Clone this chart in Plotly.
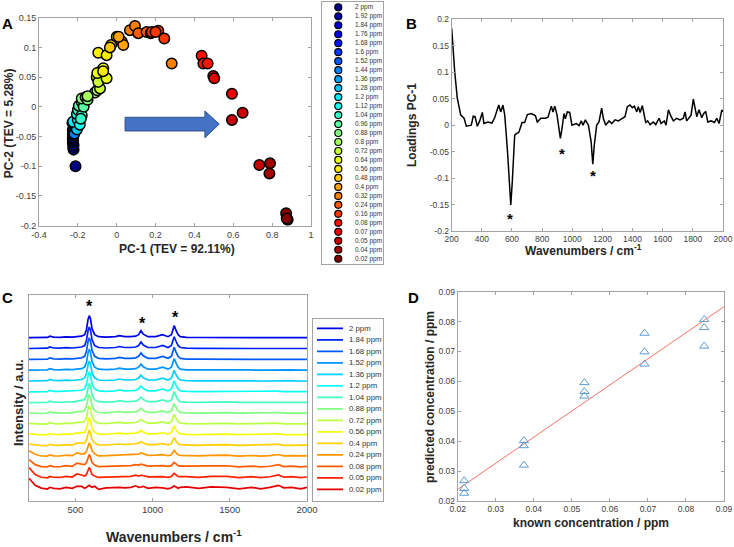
import plotly.graph_objects as go
from plotly.colors import sample_colorscale

W, H = 734, 547

# ---------------- DATA ----------------
# Panel A: PCA scores
conc_labels_A = ["2 ppm", "1.92 ppm", "1.84 ppm", "1.76 ppm", "1.68 ppm", "1.6 ppm", "1.52 ppm",
                 "1.44 ppm", "1.36 ppm", "1.28 ppm", "1.2 ppm", "1.12 ppm", "1.04 ppm", "0.96 ppm",
                 "0.88 ppm", "0.8 ppm", "0.72 ppm", "0.64 ppm", "0.56 ppm", "0.48 ppm", "0.4 ppm",
                 "0.32 ppm", "0.24 ppm", "0.16 ppm", "0.08 ppm", "0.07 ppm", "0.05 ppm", "0.04 ppm",
                 "0.02 ppm"]
pc_level = [0, 1, 1, 2, 2, 3, 3, 4, 4, 5, 5, 6, 6, 7, 7, 8, 8, 9, 9, 10, 10, 11, 11,
            12, 12, 12, 13, 13, 13, 14, 14, 14, 15, 15, 15, 16, 16, 16,
            17, 17, 17, 17,
            18, 18, 18, 19, 19, 19, 20, 20, 20, 21, 21, 21, 22, 22, 22,
            23, 23, 23, 23,
            24, 24, 24, 25, 25, 25, 26, 26, 26, 27, 27, 28, 28, 28]
pc1 = [-0.212,
       -0.222, -0.224, -0.222, -0.226, -0.224, -0.226, -0.226, -0.222, -0.226, -0.224,
       -0.222, -0.226, -0.222, -0.218, -0.212, -0.220, -0.228, -0.205, -0.225, -0.200,
       -0.205, -0.190,
       -0.200, -0.180, -0.185, -0.195, -0.180, -0.170, -0.180, -0.160, -0.150,
       -0.112, -0.100, -0.150, -0.086, -0.103, -0.095,
       -0.086, -0.069, -0.052, -0.100,
       -0.095, -0.052, -0.070, -0.029, -0.035, 0.000, 0.026, 0.034, 0.010,
       0.068, 0.094, 0.283, 0.111, 0.154, 0.175,
       0.180, 0.214, 0.245, 0.200,
       0.437, 0.446, 0.468, 0.497, 0.502, 0.593, 0.593, 0.648, 0.734,
       0.789, 0.786, 0.872, 0.880, 0.875]
pc2 = [-0.100,
       -0.072, -0.068, -0.064, -0.060, -0.057, -0.054, -0.051, -0.048, -0.046, -0.043,
       -0.041, -0.039, -0.037, -0.045, -0.034, -0.031, -0.027, -0.038, -0.025, -0.022,
       -0.012, -0.030,
       -0.005, -0.014, -0.020, 0.002, 0.008, 0.000, 0.014, 0.016, 0.012,
       0.024, 0.028, 0.018, 0.031, 0.050, 0.042,
       0.059, 0.065, 0.048, 0.057,
       0.091, 0.087, 0.060, 0.104, 0.100, 0.118, 0.110, 0.104, 0.118,
       0.129, 0.136, 0.073, 0.124, 0.126, 0.124,
       0.126, 0.128, 0.115, 0.126,
       0.086, 0.073, 0.073, 0.052, 0.048, 0.022, -0.022, -0.010, -0.098,
       -0.095, -0.112, -0.179, -0.190, -0.188]
A_xticks = [-0.4, -0.2, 0, 0.2, 0.4, 0.6, 0.8, 1]
A_xticktext = ["-0.4", "-0.2", "0", "0.2", "0.4", "0.6", "0.8", "1"]
A_yticks = [-0.2, -0.15, -0.1, -0.05, 0, 0.05, 0.1, 0.15]
A_yticktext = ["-0.2", "-0.15", "-0.1", "-0.05", "0", "0.05", "0.1", "0.15"]

# Panel B: loadings PC-1
load_wn = [200, 209, 220, 237, 260, 282, 297, 330, 343, 355, 370, 386, 403, 414, 441, 467, 485,
           512, 525, 540, 552, 569, 585, 592, 602, 618, 629, 645, 667, 684, 702, 728, 755, 768,
           791, 821, 839, 861, 872, 884, 899, 921, 932, 945, 954, 967, 983, 998, 1027, 1045,
           1060, 1071, 1087, 1107, 1125, 1136, 1146, 1162, 1177, 1195, 1206, 1222, 1244, 1262,
           1284, 1306, 1332, 1350, 1365, 1383, 1398, 1412, 1428, 1438, 1450, 1465, 1487, 1500,
           1516, 1538, 1554, 1576, 1589, 1611, 1622, 1638, 1656, 1671, 1693, 1715, 1737, 1748,
           1759, 1788, 1803, 1814, 1826, 1841, 1859, 1872, 1885, 1899, 1921, 1943, 1959, 1974,
           1992, 2000]
load_pc1 = [0.183, 0.145, 0.101, 0.051, 0.019, 0.013, -0.002, 0.000, 0.017, 0.016, -0.002, 0.008,
            0.024, 0.003, 0.006, 0.004, 0.014, 0.038, 0.025, 0.038, 0.019, -0.044, -0.126,
            -0.151, -0.107, -0.019, -0.016, -0.014, 0.005, 0.005, 0.020, 0.022, 0.018, 0.006,
            0.013, 0.013, 0.015, 0.036, 0.025, 0.036, 0.019, -0.025, -0.006, 0.022, 0.012,
            0.025, 0.024, 0.000, 0.003, -0.001, 0.008, 0.000, 0.010, 0.000, -0.031, -0.074,
            -0.038, 0.000, 0.006, 0.032, 0.013, 0.000, 0.008, 0.003, 0.010, 0.008, 0.013,
            0.016, 0.035, 0.038, 0.033, 0.036, 0.025, 0.035, 0.024, 0.037, 0.005, 0.008, 0.001,
            0.006, 0.001, 0.013, 0.003, 0.008, 0.000, 0.029, 0.016, 0.008, 0.013, 0.010, 0.013,
            0.025, 0.008, 0.019, 0.049, 0.032, 0.016, 0.029, 0.014, 0.022, 0.026, 0.006, 0.008,
            0.005, 0.013, 0.003, 0.029, 0.025]
B_xticks = [200, 400, 600, 800, 1000, 1200, 1400, 1600, 1800, 2000]
B_yticks = [-0.2, -0.15, -0.1, -0.05, 0, 0.05, 0.1, 0.15, 0.2]
B_yticktext = ["-0.2", "-0.15", "-0.1", "-0.05", "0", "0.05", "0.1", "0.15", "0.2"]
B_star_x = [587, 930, 1140]
B_star_y = [-0.170, -0.047, -0.090]

# Panel C: stacked spectra (intensity relative to each trace's own baseline)
conc_labels_C = ["2 ppm", "1.84 ppm", "1.68 ppm", "1.52 ppm", "1.36 ppm", "1.2 ppm", "1.04 ppm",
                 "0.88 ppm", "0.72 ppm", "0.56 ppm", "0.4 ppm", "0.24 ppm", "0.08 ppm",
                 "0.05 ppm", "0.02 ppm"]
spec_wn = [200, 240, 280, 320, 335, 360, 400, 440, 480, 510, 540, 560, 572, 582, 590, 598, 608,
           625, 650, 700, 760, 785, 820, 860, 890, 910, 925, 940, 970, 1020, 1065, 1100, 1122,
           1132, 1140, 1150, 1165, 1180, 1220, 1300, 1380, 1480, 1560, 1640, 1700, 1760, 1815,
           1850, 1900, 1960, 2000]
spectra = [
    [0, 0, 0, 0.3, 1.5, 0.5, 0.3, 0.8, 0.5, 1, 1.5, 3, 8, 18, 22, 19, 9, 3, 1, 0.5, 1, 2, 1, 1, 1.5, 3, 7, 3.5, 1, 1, 3, 1, 3, 8, 12, 8, 3, 1, 0.3, 0.2, 0.3, 0.5, 0, 0, 0, 0, 0, 0, 0, 0, 0],
    [0, 0, 0, 0.3, 1.5, 0.5, 0.3, 0.8, 0.5, 1, 1.5, 3, 8, 17.5, 21.5, 18.5, 9, 3, 1, 0.5, 1, 2, 1, 1, 1.5, 3, 6.5, 3.5, 1, 1, 3, 1, 3, 8, 11.7, 8, 3, 1, 0.3, 0.2, 0.3, 0.5, 0, 0, 0, 0, 0, 0, 0, 0, 0],
    [0, 0, 0, 0.3, 1.5, 0.5, 0.3, 0.8, 0.5, 1, 1.5, 3, 8, 17.5, 21.5, 18.5, 9, 3, 1, 0.5, 1, 2, 1, 1, 1.5, 3, 6.5, 3.5, 1, 1, 3, 1, 3, 8, 12, 8, 3, 1, 0.3, 0.2, 0.3, 0.5, 0, 0, 0, 0, 0.3, 0, 0, 0, 0],
    [0, 0, 0, 0.3, 1.5, 0.5, 0.3, 0.8, 0.5, 1.2, 1.5, 3, 7.5, 17, 21, 18, 8.5, 3, 1, 0.5, 1, 2, 1, 1, 1.5, 3, 6, 3.3, 1, 1, 3, 1, 3, 7.8, 11.7, 7.8, 3, 1, 0.3, 0.2, 0.3, 0.5, 0, 0.2, 0, 0.2, 0.5, 0, 0.2, 0, 0],
    [0, 0, 0, 0.3, 1.5, 0.5, 0.3, 0.8, 0.5, 1.2, 1.5, 3, 7.5, 16, 20, 17, 8, 3, 1, 0.5, 1, 2, 1, 1, 1.5, 3, 6, 3.3, 1, 1, 2.8, 1, 2.8, 7, 10.7, 7, 2.8, 1, 0.3, 0.2, 0.3, 0.5, 0, 0.2, 0, 0.2, 0.5, 0, 0.2, 0, 0],
    [0, 0, 0, 0.3, 1.5, 0.5, 0.4, 0.8, 0.6, 1.5, 1.6, 3, 7.5, 16, 20, 17, 8, 3, 1, 0.5, 1, 2, 1, 1.2, 1.5, 3, 5.8, 3.2, 1, 1, 2.8, 1, 2.8, 7.3, 11, 7.3, 2.8, 1, 0.4, 0.3, 0.4, 0.6, 0.2, 0.3, 0.2, 0.3, 0.7, 0.2, 0.3, 0.2, 0.3],
    [0, 0, 0, 0.3, 1.5, 0.6, 0.4, 0.9, 0.6, 1.5, 1.7, 3, 7, 15.5, 19.5, 16.5, 8, 3, 1, 0.6, 1, 2, 1, 1.2, 1.6, 3, 5.5, 3.1, 1, 1, 2.7, 1, 2.7, 7.3, 11, 7.3, 2.7, 1, 0.5, 0.3, 0.5, 0.7, 0.2, 0.4, 0.2, 0.4, 0.8, 0.3, 0.4, 0.2, 0.3],
    [0.5, 0.2, 0, 0.4, 1.5, 0.6, 0.5, 1, 0.7, 1.8, 1.8, 3, 7, 15, 19, 16, 7.5, 3, 1, 0.7, 1.1, 2, 1.1, 1.3, 1.7, 3, 5.3, 3, 1.1, 1.1, 2.6, 1, 2.6, 6.7, 10, 6.7, 2.6, 1.1, 0.6, 0.4, 0.6, 0.8, 0.3, 0.6, 0.3, 0.5, 1, 0.4, 0.5, 0.3, 0.4],
    [1, 0.3, 0.1, 0.4, 1.6, 0.7, 0.5, 1.1, 0.8, 2, 2, 3, 6.5, 14.5, 18.5, 15.5, 7.5, 3, 1, 0.8, 1.2, 2, 1.2, 1.4, 1.8, 3, 5, 3, 1.2, 1.2, 2.5, 1, 2.6, 6.7, 10, 6.7, 2.6, 1.2, 0.7, 0.5, 0.8, 1, 0.4, 0.7, 0.4, 0.6, 1.2, 0.5, 0.6, 0.4, 0.5],
    [1.5, 0.5, 0.2, 0.5, 1.6, 0.8, 0.6, 1.2, 0.9, 2.3, 2.2, 3, 6.5, 13.5, 17.5, 14.5, 7, 3, 1, 0.9, 1.3, 2, 1.3, 1.5, 2, 3, 4.8, 3, 1.3, 1.3, 2.4, 1, 2.5, 6.3, 9.3, 6.3, 2.5, 1.3, 0.8, 0.6, 0.9, 1.1, 0.5, 0.8, 0.5, 0.7, 1.4, 0.6, 0.7, 0.5, 0.6],
    [2, 0.8, 0.3, 0.5, 1.7, 0.9, 0.7, 1.4, 1, 2.8, 2.5, 3, 6, 12.5, 16, 13, 6.5, 3, 1, 1, 1.4, 2, 1.4, 1.6, 2.2, 2.8, 4.3, 3, 1.4, 1.4, 2.3, 1, 2.3, 5.6, 8.3, 5.6, 2.3, 1.4, 1, 0.7, 1.1, 1.3, 0.6, 1, 0.6, 0.9, 1.7, 0.7, 0.9, 0.6, 0.8],
    [6, 2.5, 0.8, 0.6, 1.8, 1, 0.8, 1.7, 1.2, 4, 3, 3, 5.5, 11, 14, 11.5, 6, 3, 1, 1.1, 1.5, 2, 1.5, 1.8, 2.5, 2.7, 3.8, 3, 1.5, 1.6, 2.2, 1.1, 2.1, 4.5, 6.3, 4.5, 2.1, 1.5, 1.3, 0.9, 1.4, 1.6, 0.7, 1.3, 0.7, 1.1, 2.3, 0.9, 1.2, 0.7, 1],
    [8, 3, 1, 0.7, 2, 1.1, 0.9, 2, 1.3, 4.5, 3.5, 3, 5, 10, 13, 10.5, 5, 2.5, 1, 1.2, 1.6, 2, 1.6, 2, 3, 2.6, 3.5, 3, 1.6, 1.8, 2, 1.2, 2, 4, 5.3, 4, 2, 1.6, 1.6, 1.1, 1.8, 1.9, 0.8, 1.6, 0.8, 1.4, 3, 1.1, 1.5, 0.8, 1.3],
    [11, 4, 1.2, 0.7, 2, 1.2, 1, 2.1, 1.4, 4.5, 3.5, 2.5, 4, 8.5, 11, 8.5, 4, 2.5, 1, 1.3, 1.8, 2, 1.7, 2.1, 3.3, 2.4, 3.2, 3, 1.6, 1.9, 1.8, 1.2, 2, 3.8, 5, 3.8, 2, 1.8, 1.9, 1.1, 2.1, 2, 0.8, 1.8, 0.8, 1.7, 3.5, 1.3, 1.8, 0.8, 1.5],
    [11, 4, 1.2, 0.3, 2, 1, 0.5, 2, 1, 3, 3, 1, 2, 3.5, 4, 3, 2, 3, 0, 1.5, 2, 2, 1.5, 2, 3.5, 2, 2.2, 3, 1, 2, 1.5, 0.5, 1.5, 2.5, 3.3, 2.5, 1, 2, 2.5, 1, 2.5, 2, 0.5, 2, 0.5, 2, 4, 1.5, 2, 0.5, 2],
]
C_stack_base = 11.7    # baseline of the lowest trace
C_stack_step = 10.83   # vertical offset between stacked traces
C_xticks = [500, 1000, 1500, 2000]
C_star_x = [590, 934, 1146]
C_star_y = [197.7, 180.3, 186.7]

# Panel D: calibration
known = [0.0217, 0.0217, 0.0217, 0.0374, 0.0374, 0.0374, 0.0533, 0.0533, 0.0533,
         0.0691, 0.0691, 0.0691, 0.0848, 0.0848, 0.0848]
predicted = [0.0268, 0.0242, 0.0226, 0.0402, 0.0385, 0.0320, 0.0596, 0.0566, 0.0551,
             0.0761, 0.0699, 0.0658, 0.0807, 0.0780, 0.0718]
fit_x = [0.02, 0.09]
fit_y = [0.0239, 0.0850]
D_ticks = [0.02, 0.03, 0.04, 0.05, 0.06, 0.07, 0.08, 0.09]
D_ticktext = ["0.02", "0.03", "0.04", "0.05", "0.06", "0.07", "0.08", "0.09"]

# ---------------- STYLE / LAYOUT HELPERS ----------------
FONT = "Liberation Sans, Arial, sans-serif"
FRAME = "#a3a3a3"
TICKC = "#404040"
JET = [[0, "rgb(0,0,128)"], [0.125, "rgb(0,0,255)"], [0.375, "rgb(0,255,255)"],
       [0.625, "rgb(255,255,0)"], [0.875, "rgb(255,0,0)"], [1, "rgb(128,0,0)"]]


def fx(p):
    return p / W


def fy(p):
    return 1 - p / H


def axstyle(size=9, **kw):
    d = dict(showline=True, linecolor=FRAME, linewidth=1, mirror="ticks", ticks="inside",
             ticklen=3, tickcolor=FRAME, showgrid=False, zeroline=False, automargin=False,
             tickfont=dict(size=size, color=TICKC, family=FONT))
    d.update(kw)
    return d


def boxaxis(**kw):
    d = dict(showline=True, mirror=True, linecolor=FRAME, showticklabels=False, ticks="",
             showgrid=False, zeroline=False, automargin=False, fixedrange=True)
    d.update(kw)
    return d


nA = len(conc_labels_A)
colA = sample_colorscale(JET, [i / (nA - 1) for i in range(nA)])
nC = len(conc_labels_C)
colC = sample_colorscale(JET, [0.1 + 0.8 * i / (nC - 1) for i in range(nC)])

fig = go.Figure()

# Panel A scatter
fig.add_trace(go.Scatter(
    x=pc1, y=pc2, mode="markers", xaxis="x", yaxis="y",
    marker=dict(size=10.5, color=[colA[l] for l in pc_level], line=dict(color="black", width=1.5)),
    showlegend=False, hoverinfo="skip"))

# Panel B line
fig.add_trace(go.Scatter(x=load_wn, y=load_pc1, mode="lines", xaxis="x2", yaxis="y2",
                         line=dict(color="black", width=1.5), showlegend=False))

# Panel C spectra
for i, row in enumerate(spectra):
    off = C_stack_base + C_stack_step * (nC - 1 - i)
    fig.add_trace(go.Scatter(x=spec_wn, y=[v + off for v in row], mode="lines",
                             xaxis="x3", yaxis="y3", line=dict(color=colC[i], width=1.7),
                             showlegend=False))

# Panel D
fig.add_trace(go.Scatter(x=fit_x, y=fit_y, mode="lines", xaxis="x4", yaxis="y4",
                         line=dict(color="#f4735f", width=1), showlegend=False))
fig.add_trace(go.Scatter(x=known, y=predicted, mode="markers", xaxis="x4", yaxis="y4",
                         marker=dict(symbol="triangle-up-open", size=8, color="#5b9bd5",
                                     line=dict(width=1)), showlegend=False))

# Custom legend A (axis 5): box 321.7..383 x 1.7..264 px
LA_w, LA_h = 383 - 321.7, 264 - 1.7
la_y = [5.6 + 8.98 * i for i in range(nA)]
fig.add_trace(go.Scatter(x=[16.6] * nA, y=la_y, mode="markers", xaxis="x5", yaxis="y5",
                         marker=dict(size=7, color=colA, line=dict(color="black", width=1.2)),
                         showlegend=False))
# Custom legend C (axis 6): box 312.7..383.3 x 319..501 px
LC_w, LC_h = 383.3 - 312.7, 501 - 319
lc_y = [9.3 + 11.5 * i for i in range(nC)]
for i in range(nC):
    fig.add_trace(go.Scatter(x=[4.3, 30.3], y=[lc_y[i], lc_y[i]], mode="lines",
                             xaxis="x6", yaxis="y6", line=dict(color=colC[i], width=1.8),
                             showlegend=False))

ann = []
for i, t in enumerate(conc_labels_A):
    ann.append(dict(x=31.0, y=la_y[i], xref="x5", yref="y5", text=t, showarrow=False,
                    xanchor="left", yanchor="middle", font=dict(size=6.5, color="#333", family=FONT)))
for i, t in enumerate(conc_labels_C):
    ann.append(dict(x=34.3, y=lc_y[i], xref="x6", yref="y6", text=t, showarrow=False,
                    xanchor="left", yanchor="middle", font=dict(size=7.8, color="#333", family=FONT)))

# asterisks
for x, y in zip(B_star_x, B_star_y):
    ann.append(dict(x=x, y=y, xref="x2", yref="y2", text="<b>*</b>", showarrow=False,
                    yshift=-3, font=dict(size=15, color="black", family=FONT)))
for x, y in zip(C_star_x, C_star_y):
    ann.append(dict(x=x, y=y, xref="x3", yref="y3", text="<b>*</b>", showarrow=False,
                    yshift=-3, font=dict(size=16, color="black", family=FONT)))

# panel letters
for t, px_, py_ in [("A", 7.5, 23), ("B", 411, 24), ("C", 7, 298), ("D", 413, 298)]:
    ann.append(dict(x=fx(px_), y=fy(py_), xref="paper", yref="paper", text="<b>%s</b>" % t,
                    showarrow=False, xanchor="center", yanchor="middle",
                    font=dict(size=15, color="black", family=FONT)))


# axis titles
def title(text, px_, py_, size=12, angle=0):
    ann.append(dict(x=fx(px_), y=fy(py_), xref="paper", yref="paper", text="<b>%s</b>" % text,
                    showarrow=False, xanchor="center", yanchor="middle", textangle=angle,
                    font=dict(size=size, color="#262626", family=FONT)))


title("PC-1 (TEV = 92.11%)", 176.7, 249.3)
title("PC-2 (TEV = 5.28%)", 9, 123.3, angle=-90)
title("Loadings PC-1", 412, 125, angle=-90)
title("Wavenumbers / cm<sup>-1</sup>", 583.3, 249.5)
title("Intensity / a.u.", 18.5, 402.5, size=13, angle=-90)
title("Wavenumbers / cm<sup>-1</sup>", 174.3, 535.5, size=14)
title("known concentration / ppm", 590.7, 522.7)
title("predicted concentration / ppm", 429.3, 396.7, angle=-90)

shapes = [dict(type="path", xref="x", yref="y",
               path="M 0.043 -0.0176 L 0.454 -0.0176 L 0.454 -0.007 L 0.528 -0.029 "
                    "L 0.454 -0.052 L 0.454 -0.0406 L 0.043 -0.0406 Z",
               fillcolor="#4472c4", line=dict(color="#2f528f", width=1))]

fig.update_layout(
    width=W, height=H, margin=dict(l=0, r=0, t=0, b=0, autoexpand=False),
    paper_bgcolor="white", plot_bgcolor="white", showlegend=False,
    font=dict(family=FONT), hovermode=False,
    xaxis=axstyle(9, domain=[fx(39), fx(311)], range=[-0.4, 1], tickvals=A_xticks,
                  ticktext=A_xticktext, anchor="y"),
    yaxis=axstyle(9, domain=[fy(225.7), fy(17.7)], range=[-0.2, 0.15], tickvals=A_yticks,
                  ticktext=A_yticktext, anchor="x"),
    xaxis2=axstyle(8.5, domain=[fx(451.7), fx(723)], range=[200, 2000], tickvals=B_xticks,
                   anchor="y2"),
    yaxis2=axstyle(8.5, domain=[fy(231), fy(19.3)], range=[-0.2, 0.2], tickvals=B_yticks,
                   ticktext=B_yticktext, anchor="x2"),
    xaxis3=axstyle(9.5, domain=[fx(29), fx(307)], range=[200, 2000], tickvals=C_xticks,
                   anchor="y3"),
    yaxis3=axstyle(9, domain=[fy(501), fy(295)], range=[0, 206], showticklabels=False,
                   ticks="", anchor="x3"),
    xaxis4=axstyle(8.5, domain=[fx(457.7), fx(724)], range=[0.02, 0.09], tickvals=D_ticks,
                   ticktext=D_ticktext, anchor="y4"),
    yaxis4=axstyle(8.5, domain=[fy(501), fy(291.7)], range=[0.02, 0.09], tickvals=D_ticks,
                   ticktext=D_ticktext, anchor="x4"),
    xaxis5=boxaxis(domain=[fx(321.7), fx(383)], range=[0, LA_w], anchor="y5"),
    yaxis5=boxaxis(domain=[fy(264), fy(1.7)], range=[LA_h, 0], anchor="x5"),
    xaxis6=boxaxis(domain=[fx(312.7), fx(383.3)], range=[0, LC_w], anchor="y6"),
    yaxis6=boxaxis(domain=[fy(501), fy(319)], range=[LC_h, 0], anchor="x6"),
    annotations=ann, shapes=shapes,
)

fig.write_html("out.html", config={"displayModeBar": False},
               post_script="document.body.style.margin='0';document.body.style.overflow='hidden';")
